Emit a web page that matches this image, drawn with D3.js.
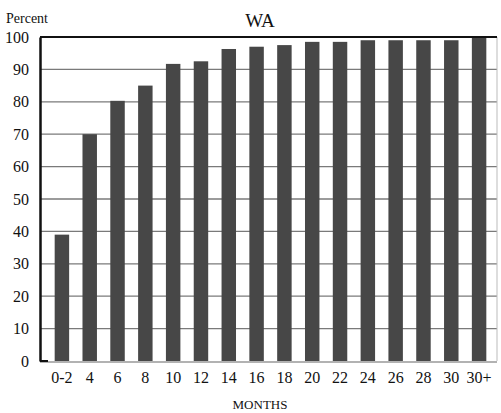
<!DOCTYPE html>
<html>
<head>
<meta charset="utf-8">
<script src="https://cdn.jsdelivr.net/npm/d3@7/dist/d3.min.js"></script>
<style>
  html, body { margin: 0; padding: 0; background: #fff; }
  svg { display: block; }
  text { font-family: "Liberation Serif", "Times New Roman", serif; fill: #111; }
</style>
</head>
<body>
<svg id="chart" width="501" height="413"></svg>
<script>
// Share of cases closed by months elapsed, WA
const months = ["0-2", "4", "6", "8", "10", "12", "14", "16", "18", "20", "22", "24", "26", "28", "30", "30+"];
const percent = [39, 70, 80.3, 85, 91.7, 92.5, 96.3, 97, 97.5, 98.5, 98.5, 99, 99, 99, 99, 100];
const yTicks = [0, 10, 20, 30, 40, 50, 60, 70, 80, 90, 100];
const title = "WA";
const yTitle = "Percent";
const xTitle = "MONTHS";

const serif = "'Liberation Serif', 'Times New Roman', serif";
const svg = d3.select("#chart");
const plotLeft = 40, plotRight = 497, plotTop = 37, plotBottom = 361;

const x = d3.scaleBand()
  .domain(months)
  .range([48, 493])
  .paddingInner(0.48)
  .paddingOuter(0.24);

const y = d3.scaleLinear().domain([0, 100]).range([plotBottom, plotTop]);

// horizontal gridlines
svg.append("g")
  .selectAll("line")
  .data(yTicks.filter(d => d > 0 && d < 100))
  .join("line")
  .attr("x1", plotLeft).attr("x2", plotRight)
  .attr("y1", d => y(d)).attr("y2", d => y(d))
  .attr("stroke", "#7a7a7a")
  .attr("stroke-width", 1.3);

// right frame and baseline
svg.append("line")
  .attr("x1", plotRight).attr("x2", plotRight).attr("y1", plotTop).attr("y2", plotBottom)
  .attr("stroke", "#bbb").attr("stroke-width", 1);
svg.append("line")
  .attr("x1", plotLeft).attr("x2", plotRight).attr("y1", plotBottom + 1).attr("y2", plotBottom + 1)
  .attr("stroke", "#999").attr("stroke-width", 1.5);

// bars
svg.append("g")
  .selectAll("rect")
  .data(months.map((m, i) => ({ m, v: percent[i] })))
  .join("rect")
  .attr("x", d => x(d.m))
  .attr("width", x.bandwidth())
  .attr("y", d => y(d.v))
  .attr("height", d => y(0) - y(d.v))
  .attr("fill", "#474747");

// top frame and y axis line
svg.append("line")
  .attr("x1", plotLeft).attr("x2", plotRight).attr("y1", plotTop).attr("y2", plotTop)
  .attr("stroke", "#111").attr("stroke-width", 2);

const yAxis = d3.axisLeft(y).tickValues(yTicks).tickSize(0).tickPadding(11);
const gy = svg.append("g")
  .attr("transform", `translate(${plotLeft},0)`)
  .call(yAxis)
  .attr("font-family", serif)
  .attr("font-size", 16);
gy.select(".domain").attr("stroke", "#111").attr("stroke-width", 2.5);
gy.selectAll("text").attr("fill", "#111");
svg.append("line")
  .attr("x1", plotLeft).attr("x2", plotLeft + 8).attr("y1", plotBottom).attr("y2", plotBottom)
  .attr("stroke", "#111").attr("stroke-width", 2);

// x axis labels
const xAxis = d3.axisBottom(x).tickSize(0).tickPadding(11);
const gx = svg.append("g")
  .attr("transform", `translate(0,${plotBottom})`)
  .call(xAxis)
  .attr("font-family", serif)
  .attr("font-size", 16);
gx.select(".domain").remove();
gx.selectAll("text")
  .attr("fill", (d, i) => i < 4 ? "#8a8a8a" : "#111");

// titles
svg.append("text")
  .attr("x", 260).attr("y", 27)
  .attr("text-anchor", "middle")
  .style("font-size", "19px")
  .text(title);
svg.append("text")
  .attr("x", 6).attr("y", 23)
  .style("font-size", "14px")
  .text(yTitle);
svg.append("text")
  .attr("x", 260).attr("y", 409)
  .attr("text-anchor", "middle")
  .style("font-size", "13px")
  .text(xTitle);
</script>
</body>
</html>
